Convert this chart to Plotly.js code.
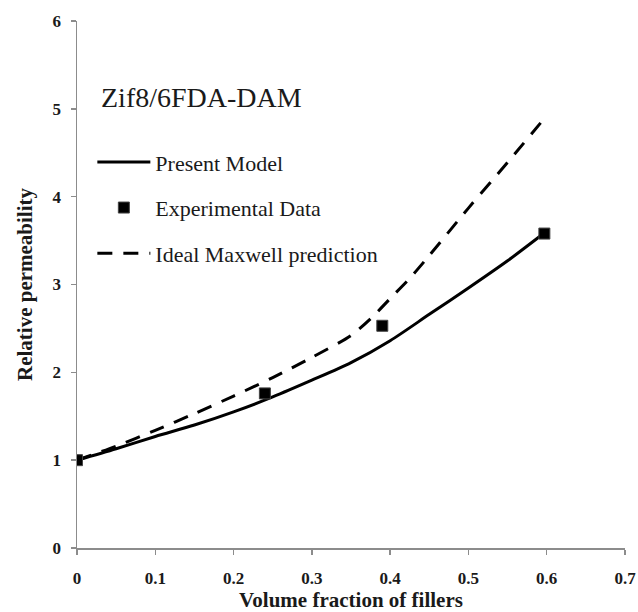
<!DOCTYPE html>
<html>
<head>
<meta charset="utf-8">
<script src="https://cdn.plot.ly/plotly-3.0.1.min.js"></script>
<style>html,body{margin:0;padding:0;background:#fff;}</style>
</head>
<body>
<div id="chart" style="width:638px;height:612px;"></div>
<script>
// Data
const modelX = [0, 0.05, 0.1, 0.15, 0.2, 0.25, 0.3, 0.35, 0.4, 0.45, 0.5, 0.55, 0.596];
const modelY = [1.0, 1.13, 1.27, 1.40, 1.55, 1.72, 1.91, 2.11, 2.36, 2.66, 2.96, 3.27, 3.58];

const maxwellX = [0, 0.05, 0.1, 0.15, 0.2, 0.25, 0.3, 0.35, 0.375, 0.4, 0.425, 0.45, 0.5, 0.55, 0.596];
const maxwellY = [1.0, 1.16, 1.34, 1.53, 1.73, 1.94, 2.17, 2.42, 2.61, 2.84, 3.07, 3.33, 3.87, 4.39, 4.88];

const expX = [0, 0.24, 0.39, 0.597];
const expY = [1.0, 1.76, 2.53, 3.58];

const xTicks = [0, 0.1, 0.2, 0.3, 0.4, 0.5, 0.6, 0.7];
const yTicks = [0, 1, 2, 3, 4, 5, 6];

const serif = "Liberation Serif, Times New Roman, serif";

const traces = [
  {x: modelX, y: modelY, mode: 'lines', name: 'Present Model', legendgroup: 'a', legendrank: 1,
   line: {color: '#000', width: 3, shape: 'spline', smoothing: 0.8}},
  {x: maxwellX, y: maxwellY, mode: 'lines', name: 'Ideal Maxwell prediction', legendgroup: 'c', legendrank: 3,
   line: {color: '#000', width: 3, dash: '15px,11px', shape: 'spline', smoothing: 0.8}},
  {x: expX, y: expY, mode: 'markers', name: 'Experimental Data', legendgroup: 'b', legendrank: 2,
   marker: {symbol: 'square', size: 11, color: '#000', line: {color: '#444', width: 1}}}
];

const axisCommon = {
  showgrid: false, zeroline: false, showline: true, linecolor: '#8c8c8c', linewidth: 1.5,
  ticks: 'outside', ticklen: 5, tickwidth: 1.5, tickcolor: '#8c8c8c',
  tickfont: {family: serif, size: 17, color: '#1a1a1a', weight: 'bold'}
};

const layout = {
  width: 638, height: 612,
  margin: {l: 77, r: 13, t: 21, b: 64},
  paper_bgcolor: '#fff', plot_bgcolor: '#fff',
  showlegend: true,
  legend: {
    x: 0.028, y: 0.772, xanchor: 'left', yanchor: 'top',
    bgcolor: 'rgba(0,0,0,0)', borderwidth: 0,
    font: {family: serif, size: 22, color: '#1a1a1a'},
    itemwidth: 53, tracegroupgap: 14
  },
  xaxis: Object.assign({}, axisCommon, {
    range: [0, 0.7], tickvals: xTicks, ticktext: xTicks.map(String),
    ticklabelstandoff: 9,
    title: {text: 'Volume fraction of fillers', font: {family: serif, size: 21, color: '#1a1a1a', weight: 'bold'}, standoff: 6}
  }),
  yaxis: Object.assign({}, axisCommon, {
    range: [0, 6], tickvals: yTicks, ticktext: yTicks.map(String),
    ticklabelstandoff: 6,
    title: {text: 'Relative permeability', font: {family: serif, size: 21, color: '#1a1a1a', weight: 'bold'}, standoff: 14}
  }),
  annotations: [
    {text: 'Zif8/6FDA-DAM', xref: 'paper', yref: 'paper', x: 0.040, y: 0.854,
     xanchor: 'left', yanchor: 'middle', showarrow: false,
     font: {family: serif, size: 28, color: '#1a1a1a'}}
  ]
};

Plotly.newPlot('chart', traces, layout, {displayModeBar: false, staticPlot: true});
</script>
</body>
</html>
